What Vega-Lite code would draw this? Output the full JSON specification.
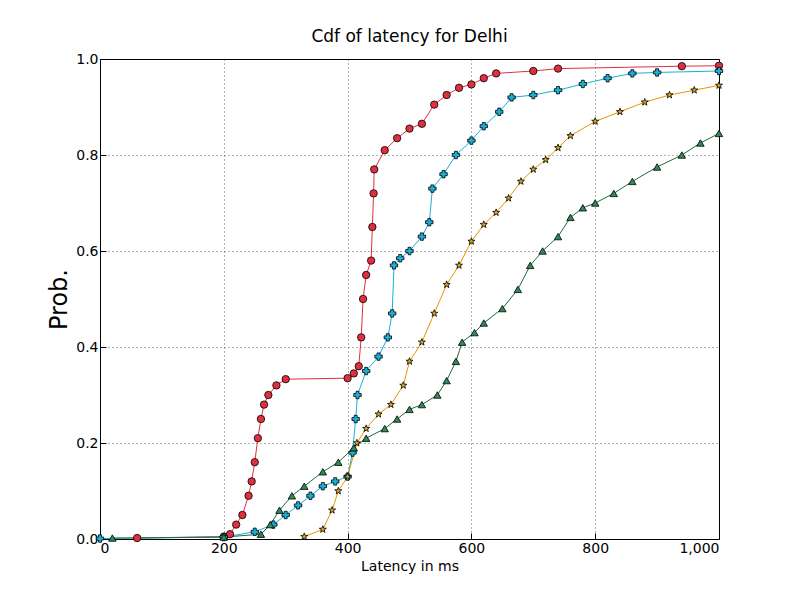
{
"$schema":"https://vega.github.io/schema/vega-lite/v6.json",
"width":619,"height":480,
"autosize":{"type":"none"},
"padding":{"left":100,"top":59,"right":81,"bottom":61},
"title":{"text":"Cdf of latency for Delhi","fontSize":17,"font":"DejaVu Sans","fontWeight":"normal","offset":6},
"config":{"view":{"stroke":"black"},"axis":{"grid":true,"gridDash":[1,3],"gridColor":"black","gridOpacity":0.6,"domain":false,"tickColor":"black","tickSize":-6,"labelFont":"DejaVu Sans","labelFontSize":14,"labelColor":"black","labelOverlap":false,"titleFont":"DejaVu Sans","titleFontWeight":"normal","titleColor":"black","labelPadding":8}},
"datasets":{"d":[
{"s":"Delhi-reliance","x":60,"y":0.002},{"s":"Delhi-reliance","x":200,"y":0.005},{"s":"Delhi-reliance","x":210,"y":0.01},{"s":"Delhi-reliance","x":220,"y":0.03},{"s":"Delhi-reliance","x":230,"y":0.05},{"s":"Delhi-reliance","x":240,"y":0.09},{"s":"Delhi-reliance","x":245,"y":0.12},{"s":"Delhi-reliance","x":250,"y":0.16},{"s":"Delhi-reliance","x":255,"y":0.21},{"s":"Delhi-reliance","x":260,"y":0.25},{"s":"Delhi-reliance","x":265,"y":0.28},{"s":"Delhi-reliance","x":272,"y":0.3},{"s":"Delhi-reliance","x":285,"y":0.32},{"s":"Delhi-reliance","x":300,"y":0.333},{"s":"Delhi-reliance","x":400,"y":0.335},{"s":"Delhi-reliance","x":410,"y":0.345},{"s":"Delhi-reliance","x":418,"y":0.36},{"s":"Delhi-reliance","x":422,"y":0.42},{"s":"Delhi-reliance","x":425,"y":0.5},{"s":"Delhi-reliance","x":430,"y":0.55},{"s":"Delhi-reliance","x":438,"y":0.58},{"s":"Delhi-reliance","x":440,"y":0.65},{"s":"Delhi-reliance","x":442,"y":0.72},{"s":"Delhi-reliance","x":443,"y":0.77},{"s":"Delhi-reliance","x":460,"y":0.81},{"s":"Delhi-reliance","x":480,"y":0.835},{"s":"Delhi-reliance","x":500,"y":0.855},{"s":"Delhi-reliance","x":520,"y":0.865},{"s":"Delhi-reliance","x":540,"y":0.905},{"s":"Delhi-reliance","x":560,"y":0.925},{"s":"Delhi-reliance","x":580,"y":0.94},{"s":"Delhi-reliance","x":600,"y":0.947},{"s":"Delhi-reliance","x":620,"y":0.96},{"s":"Delhi-reliance","x":640,"y":0.97},{"s":"Delhi-reliance","x":700,"y":0.975},{"s":"Delhi-reliance","x":740,"y":0.98},{"s":"Delhi-reliance","x":940,"y":0.985},{"s":"Delhi-reliance","x":1000,"y":0.986},
{"s":"Delhi-airtel","x":0,"y":0.001},{"s":"Delhi-airtel","x":200,"y":0.004},{"s":"Delhi-airtel","x":250,"y":0.015},{"s":"Delhi-airtel","x":280,"y":0.03},{"s":"Delhi-airtel","x":300,"y":0.05},{"s":"Delhi-airtel","x":320,"y":0.07},{"s":"Delhi-airtel","x":340,"y":0.09},{"s":"Delhi-airtel","x":360,"y":0.11},{"s":"Delhi-airtel","x":380,"y":0.12},{"s":"Delhi-airtel","x":400,"y":0.13},{"s":"Delhi-airtel","x":408,"y":0.18},{"s":"Delhi-airtel","x":413,"y":0.25},{"s":"Delhi-airtel","x":416,"y":0.3},{"s":"Delhi-airtel","x":430,"y":0.35},{"s":"Delhi-airtel","x":450,"y":0.38},{"s":"Delhi-airtel","x":465,"y":0.42},{"s":"Delhi-airtel","x":472,"y":0.47},{"s":"Delhi-airtel","x":475,"y":0.57},{"s":"Delhi-airtel","x":485,"y":0.585},{"s":"Delhi-airtel","x":500,"y":0.6},{"s":"Delhi-airtel","x":520,"y":0.63},{"s":"Delhi-airtel","x":532,"y":0.66},{"s":"Delhi-airtel","x":537,"y":0.73},{"s":"Delhi-airtel","x":555,"y":0.76},{"s":"Delhi-airtel","x":575,"y":0.8},{"s":"Delhi-airtel","x":600,"y":0.83},{"s":"Delhi-airtel","x":620,"y":0.86},{"s":"Delhi-airtel","x":645,"y":0.89},{"s":"Delhi-airtel","x":665,"y":0.92},{"s":"Delhi-airtel","x":700,"y":0.925},{"s":"Delhi-airtel","x":740,"y":0.935},{"s":"Delhi-airtel","x":780,"y":0.948},{"s":"Delhi-airtel","x":820,"y":0.96},{"s":"Delhi-airtel","x":860,"y":0.97},{"s":"Delhi-airtel","x":900,"y":0.972},{"s":"Delhi-airtel","x":1000,"y":0.975},
{"s":"Delhi-mtnl","x":20,"y":0.002},{"s":"Delhi-mtnl","x":200,"y":0.004},{"s":"Delhi-mtnl","x":260,"y":0.01},{"s":"Delhi-mtnl","x":275,"y":0.03},{"s":"Delhi-mtnl","x":290,"y":0.06},{"s":"Delhi-mtnl","x":310,"y":0.09},{"s":"Delhi-mtnl","x":330,"y":0.11},{"s":"Delhi-mtnl","x":360,"y":0.14},{"s":"Delhi-mtnl","x":385,"y":0.16},{"s":"Delhi-mtnl","x":410,"y":0.19},{"s":"Delhi-mtnl","x":430,"y":0.21},{"s":"Delhi-mtnl","x":460,"y":0.23},{"s":"Delhi-mtnl","x":480,"y":0.25},{"s":"Delhi-mtnl","x":500,"y":0.27},{"s":"Delhi-mtnl","x":520,"y":0.28},{"s":"Delhi-mtnl","x":545,"y":0.3},{"s":"Delhi-mtnl","x":560,"y":0.33},{"s":"Delhi-mtnl","x":575,"y":0.37},{"s":"Delhi-mtnl","x":585,"y":0.41},{"s":"Delhi-mtnl","x":605,"y":0.43},{"s":"Delhi-mtnl","x":620,"y":0.45},{"s":"Delhi-mtnl","x":650,"y":0.48},{"s":"Delhi-mtnl","x":675,"y":0.52},{"s":"Delhi-mtnl","x":695,"y":0.57},{"s":"Delhi-mtnl","x":715,"y":0.6},{"s":"Delhi-mtnl","x":740,"y":0.63},{"s":"Delhi-mtnl","x":760,"y":0.67},{"s":"Delhi-mtnl","x":780,"y":0.69},{"s":"Delhi-mtnl","x":800,"y":0.7},{"s":"Delhi-mtnl","x":830,"y":0.72},{"s":"Delhi-mtnl","x":860,"y":0.745},{"s":"Delhi-mtnl","x":900,"y":0.775},{"s":"Delhi-mtnl","x":940,"y":0.8},{"s":"Delhi-mtnl","x":970,"y":0.825},{"s":"Delhi-mtnl","x":1000,"y":0.845},
{"s":"Delhi-idea","x":330,"y":0.005},{"s":"Delhi-idea","x":360,"y":0.02},{"s":"Delhi-idea","x":375,"y":0.06},{"s":"Delhi-idea","x":385,"y":0.1},{"s":"Delhi-idea","x":400,"y":0.13},{"s":"Delhi-idea","x":415,"y":0.2},{"s":"Delhi-idea","x":430,"y":0.23},{"s":"Delhi-idea","x":450,"y":0.26},{"s":"Delhi-idea","x":470,"y":0.28},{"s":"Delhi-idea","x":490,"y":0.32},{"s":"Delhi-idea","x":500,"y":0.37},{"s":"Delhi-idea","x":520,"y":0.41},{"s":"Delhi-idea","x":540,"y":0.47},{"s":"Delhi-idea","x":560,"y":0.53},{"s":"Delhi-idea","x":580,"y":0.57},{"s":"Delhi-idea","x":600,"y":0.62},{"s":"Delhi-idea","x":620,"y":0.655},{"s":"Delhi-idea","x":640,"y":0.68},{"s":"Delhi-idea","x":660,"y":0.71},{"s":"Delhi-idea","x":680,"y":0.745},{"s":"Delhi-idea","x":700,"y":0.77},{"s":"Delhi-idea","x":720,"y":0.79},{"s":"Delhi-idea","x":740,"y":0.815},{"s":"Delhi-idea","x":760,"y":0.84},{"s":"Delhi-idea","x":800,"y":0.87},{"s":"Delhi-idea","x":840,"y":0.89},{"s":"Delhi-idea","x":880,"y":0.91},{"s":"Delhi-idea","x":920,"y":0.925},{"s":"Delhi-idea","x":960,"y":0.935},{"s":"Delhi-idea","x":1000,"y":0.945}
]},
"data":{"name":"d"},
"encoding":{
"x":{"field":"x","type":"quantitative","scale":{"domain":[0,1000],"nice":false},"axis":{"title":"Latency in ms","titleFontSize":14,"values":[0,200,400,600,800,1000]}},
"y":{"field":"y","type":"quantitative","scale":{"domain":[0,1]},"axis":{"title":"Prob.","titleFontSize":24,"values":[0,0.2,0.4,0.6,0.8,1],"format":".1f"}}
},
"layer":[
{"mark":{"type":"line","strokeWidth":1},"encoding":{"color":{"field":"s","type":"nominal","scale":{"domain":["Delhi-reliance","Delhi-airtel","Delhi-mtnl","Delhi-idea"],"range":["#e0303f","#1ab0d8","#1e6b3a","#e69500"]},"legend":null}}},
{"mark":{"type":"point","filled":true,"size":55,"strokeWidth":0.8,"opacity":1,"stroke":"black"},"encoding":{
"fill":{"field":"s","type":"nominal","scale":{"domain":["Delhi-reliance","Delhi-airtel","Delhi-mtnl","Delhi-idea"],"range":["#e0303f","#1ab0d8","#2e8b57","#daa520"]},"legend":{"title":null,"orient":"bottom-right","labelFontSize":18,"labelFont":"DejaVu Sans","strokeColor":"black","fillColor":"white","padding":8,"symbolSize":100,"symbolStrokeColor":"black","symbolStrokeWidth":0.8,"rowPadding":6,"offset":10}},
"shape":{"field":"s","type":"nominal","scale":{"domain":["Delhi-reliance","Delhi-airtel","Delhi-mtnl","Delhi-idea"],"range":["circle","cross","triangle-up","M0,-1L0.24,-0.33L0.95,-0.31L0.38,0.12L0.59,0.81L0,0.4L-0.59,0.81L-0.38,0.12L-0.95,-0.31L-0.24,-0.33Z"]},"legend":{"title":null,"orient":"bottom-right","labelFontSize":18,"labelFont":"DejaVu Sans","strokeColor":"black","fillColor":"white","padding":8,"symbolSize":100,"symbolStrokeColor":"black","symbolStrokeWidth":0.8,"rowPadding":6,"offset":10}}
}}
]
}
